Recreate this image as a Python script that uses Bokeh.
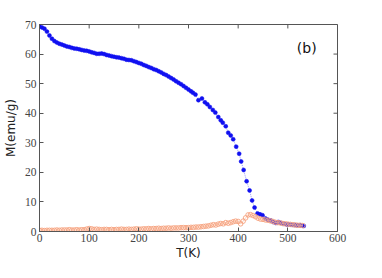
from bokeh.plotting import figure
from bokeh.models import Label, FixedTicker
from bokeh.embed import file_html
from bokeh.resources import INLINE

# Blue (filled) series: T (K), M (emu/g)
t_blue = [0, 5, 10, 15, 20, 25, 30, 35, 40, 45, 50, 55, 60, 65, 70, 75, 80, 85, 90, 95,
          100, 105, 110, 115, 120, 125, 130, 135, 140, 145, 150, 155, 160, 165, 170, 175,
          180, 185, 190, 195, 200, 205, 210, 215, 220, 225, 230, 235, 240, 245, 250, 255,
          260, 265, 270, 275, 280, 285, 290, 295, 300, 305, 309, 314, 320, 327, 333, 338,
          343, 349, 354, 360, 365, 369, 375, 380, 385, 390, 396, 402, 406, 411, 417, 423,
          428, 433, 439, 444, 449, 455, 460, 466, 471, 476, 481, 486, 492, 498, 502, 507,
          513, 518, 523, 527, 532]
m_blue = [69.3, 69.0, 68.6, 67.6, 66.3, 65.2, 64.4, 63.9, 63.5, 63.2, 62.9, 62.6, 62.4, 62.1,
          61.9, 61.8, 61.6, 61.4, 61.2, 61.1, 60.9, 60.6, 60.4, 60.1, 60.1, 60.2, 60.0, 59.7,
          59.5, 59.3, 59.1, 58.9, 58.8, 58.6, 58.4, 58.1, 58.0, 57.9, 57.6, 57.3, 57.0, 56.7,
          56.3, 56.0, 55.6, 55.3, 54.9, 54.6, 54.2, 53.8, 53.3, 52.9, 52.4, 51.9, 51.4, 50.8,
          50.3, 49.8, 49.2, 48.6, 48.0, 47.4, 46.9, 46.3, 44.4, 45.0, 43.7, 43.0, 42.1, 41.1,
          40.2, 38.7, 37.6, 36.8, 35.6, 33.4, 32.5, 31.2, 28.7, 26.3, 23.7, 20.8, 17.0, 13.9,
          10.5, 8.1, 6.1, 5.8, 5.5, 4.4, 4.0, 3.7, 3.2, 2.9, 3.2, 2.9, 2.6, 2.4, 2.4, 2.3,
          2.2, 2.1, 2.1, 2.0, 1.9]

# Orange (open) series
t_orange = [0, 5, 10, 15, 20, 25, 30, 35, 40, 45, 50, 55, 60, 65, 70, 75, 80, 85, 90, 95,
            100, 105, 110, 115, 120, 125, 130, 135, 140, 145, 150, 155, 160, 165, 170, 175,
            180, 185, 190, 195, 200, 205, 210, 215, 220, 225, 230, 235, 240, 245, 250, 255,
            260, 265, 270, 275, 280, 285, 290, 295, 300, 305, 310, 315, 320, 325, 330, 335,
            340, 345, 350, 355, 360, 365, 370, 375, 380, 385, 390, 395, 400, 405, 410, 415,
            420, 425, 430, 435, 440, 445, 450, 455, 460, 465, 470, 475, 480, 485, 490, 495,
            500, 505, 510, 515, 520, 525, 530]
m_orange = [0.4, 0.4, 0.3, 0.4, 0.4, 0.4, 0.4, 0.5, 0.4, 0.5, 0.5, 0.5, 0.6, 0.5, 0.5, 0.6,
            0.5, 0.6, 0.6, 0.8, 1.0, 0.9, 0.7, 0.8, 0.7, 0.6, 0.7, 0.7, 0.6, 0.7, 0.6, 0.7,
            0.7, 0.8, 0.7, 0.7, 0.8, 0.7, 0.8, 0.9, 0.8, 0.8, 0.9, 0.9, 1.0, 0.9, 1.0, 1.0,
            1.1, 1.0, 1.1, 1.1, 1.2, 1.1, 1.2, 1.2, 1.2, 1.3, 1.3, 1.3, 1.3, 1.4, 1.4, 1.5,
            1.5, 1.6, 1.7, 1.8, 1.9, 2.1, 2.3, 2.2, 2.5, 2.7, 2.6, 3.0, 2.8, 3.0, 3.3, 3.5,
            3.4, 2.6, 3.5, 4.6, 5.6, 5.7, 5.4, 5.0, 4.5, 4.2, 4.1, 3.9, 3.8, 3.6, 3.4, 3.1,
            3.0, 2.9, 2.7, 2.6, 2.5, 2.4, 2.3, 2.2, 2.1, 2.1, 2.0]

x_ticks = [0, 100, 200, 300, 400, 500, 600]
y_ticks = [0, 10, 20, 30, 40, 50, 60, 70]
x_min, x_max = 0, 600
y_min, y_max = 0, 70

p = figure(width=366, height=262, x_range=(x_min, x_max), y_range=(y_min, y_max),
           output_backend="svg", toolbar_location=None,
           min_border_left=38, min_border_right=29, min_border_top=24, min_border_bottom=29)
p.background_fill_color = "white"
p.border_fill_color = "white"
p.outline_line_color = "#555555"
p.outline_line_width = 1
p.xgrid.visible = False
p.ygrid.visible = False

for ax in (p.xaxis[0], p.yaxis[0]):
    ax.major_tick_in = 4
    ax.major_tick_out = 0
    ax.minor_tick_line_color = None
    ax.axis_line_color = "#555555"
    ax.major_tick_line_color = "#555555"
    ax.major_label_text_font = "Liberation Serif"
    ax.major_label_text_font_size = "11.5px"
    ax.major_label_text_color = "#444444"
    ax.axis_label_text_font = "DejaVu Sans"
    ax.axis_label_text_font_size = "12px"
    ax.axis_label_text_font_style = "normal"
    ax.axis_label_text_color = "#222222"

p.xaxis[0].ticker = FixedTicker(ticks=x_ticks)
p.yaxis[0].ticker = FixedTicker(ticks=y_ticks)
p.xaxis[0].axis_label = "T(K)"
p.yaxis[0].axis_label = "M(emu/g)"
p.xaxis[0].major_label_standoff = 2
p.xaxis[0].axis_label_standoff = 1
p.yaxis[0].major_label_standoff = 3
p.yaxis[0].axis_label_standoff = 4

# inward ticks on the top and right edges of the box (4 px long)
tick_dy = 4 * (y_max - y_min) / 209.0
tick_dx = 4 * (x_max - x_min) / 299.0
p.segment(x0=x_ticks, y0=[y_max] * len(x_ticks), x1=x_ticks, y1=[y_max - tick_dy] * len(x_ticks),
          line_color="#555555", line_width=1)
p.segment(x0=[x_max] * len(y_ticks), y0=y_ticks, x1=[x_max - tick_dx] * len(y_ticks), y1=y_ticks,
          line_color="#555555", line_width=1)

# Blue series: dotted thin line + filled dots
p.line(t_blue, m_blue, line_color="#7f7fff", line_width=0.8, line_dash="1 1")
p.scatter(t_blue, m_blue, size=4, fill_color="#1010f0", line_color="#1010f0", line_width=0.5)

# Orange series: light line + open circles
p.line(t_orange, m_orange, line_color="#f9c4aa", line_width=0.8)
p.scatter(t_orange, m_orange, size=4.6, fill_color=None, line_color="#f6a27e", line_width=0.9)

p.add_layout(Label(x=538, y=62, text="(b)", text_font="DejaVu Sans", text_font_size="14px",
                   text_color="#111111", text_align="center", text_baseline="middle"))

open("out.html", "w").write(file_html(p, INLINE))
